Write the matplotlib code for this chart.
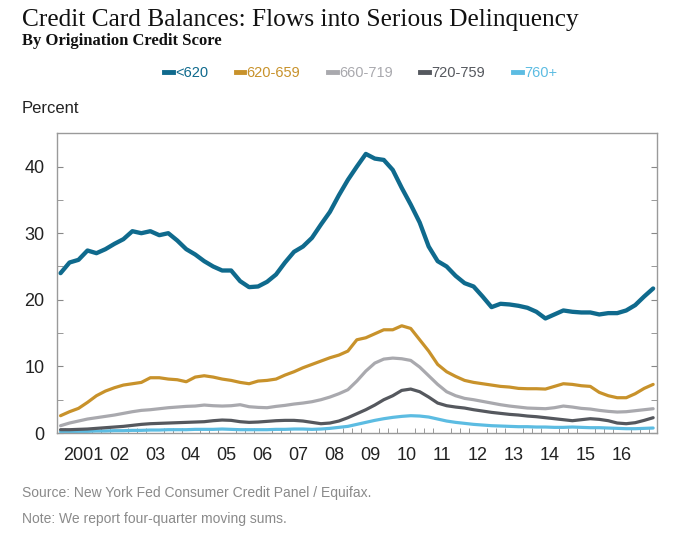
import matplotlib.pyplot as plt
import matplotlib.lines as mlines
import numpy as np
import pandas as pd

# quarterly data, 2000Q4 - 2017Q2 (four-quarter moving sums, percent)
quarters = pd.period_range('2000Q4', '2017Q2', freq='Q')

below_620 = [24.0, 25.6, 26.0, 27.4, 27.0, 27.6, 28.4, 29.1, 30.3, 30.0, 30.3, 29.7,
             30.0, 28.9, 27.6, 26.8, 25.8, 25.0, 24.4, 24.4, 22.8, 21.9, 22.0, 22.7,
             23.8, 25.6, 27.2, 28.0, 29.3, 31.3, 33.2, 35.7, 38.0, 40.0, 41.9, 41.2,
             41.0, 39.5, 36.8, 34.3, 31.6, 28.0, 25.8, 25.0, 23.6, 22.5, 22.0, 20.5,
             18.9, 19.4, 19.3, 19.1, 18.8, 18.2, 17.2, 17.8, 18.4, 18.2, 18.1, 18.1,
             17.8, 18.0, 18.0, 18.4, 19.2, 20.5, 21.7]
s620_659 = [2.6, 3.2, 3.7, 4.6, 5.6, 6.3, 6.8, 7.2, 7.4, 7.6, 8.3, 8.3,
            8.1, 8.0, 7.7, 8.4, 8.6, 8.4, 8.1, 7.9, 7.6, 7.4, 7.8, 7.9,
            8.1, 8.7, 9.2, 9.8, 10.3, 10.8, 11.3, 11.7, 12.3, 14.0, 14.3, 14.9,
            15.5, 15.5, 16.1, 15.7, 14.0, 12.3, 10.3, 9.2, 8.5, 7.9, 7.6, 7.4,
            7.2, 7.0, 6.9, 6.7, 6.65, 6.65, 6.6, 7.0, 7.4, 7.3, 7.1, 7.0,
            6.1, 5.6, 5.3, 5.3, 5.9, 6.7, 7.3]
s660_719 = [1.1, 1.5, 1.8, 2.1, 2.3, 2.5, 2.7, 2.95, 3.2, 3.4, 3.5, 3.65,
            3.8, 3.9, 4.0, 4.05, 4.2, 4.1, 4.05, 4.1, 4.25, 3.95, 3.85, 3.8,
            4.0, 4.15, 4.35, 4.5, 4.7, 5.0, 5.4, 5.9, 6.5, 7.8, 9.3, 10.5,
            11.1, 11.25, 11.15, 10.9, 9.9, 8.6, 7.3, 6.2, 5.6, 5.2, 5.0, 4.75,
            4.5, 4.25, 4.05, 3.9, 3.75, 3.7, 3.65, 3.8, 4.05, 3.9, 3.7, 3.6,
            3.4, 3.25, 3.15, 3.2, 3.35, 3.5, 3.65]
s720_759 = [0.5, 0.5, 0.55, 0.6, 0.7, 0.8, 0.9, 1.0, 1.15, 1.3, 1.4, 1.45,
            1.5, 1.55, 1.6, 1.65, 1.7, 1.85, 1.95, 1.9, 1.7, 1.6, 1.65, 1.75,
            1.85, 1.9, 1.9, 1.8, 1.6, 1.4, 1.5, 1.8, 2.3, 2.9, 3.5, 4.2,
            5.0, 5.6, 6.4, 6.6, 6.2, 5.4, 4.5, 4.1, 3.9, 3.75, 3.5, 3.3,
            3.1, 2.95, 2.8, 2.7, 2.55, 2.45, 2.3, 2.15, 2.0, 1.85, 2.0, 2.15,
            2.05, 1.85, 1.5, 1.4, 1.55, 1.9, 2.3]
s760_plus = [0.2, 0.2, 0.25, 0.25, 0.3, 0.3, 0.35, 0.35, 0.4, 0.4, 0.45, 0.45,
             0.5, 0.5, 0.5, 0.55, 0.55, 0.55, 0.6, 0.55, 0.5, 0.5, 0.5, 0.5,
             0.55, 0.55, 0.6, 0.6, 0.55, 0.6, 0.7, 0.85, 1.0, 1.3, 1.6, 1.9,
             2.15, 2.35, 2.5, 2.6, 2.55, 2.4, 2.1, 1.8, 1.6, 1.45, 1.3, 1.2,
             1.1, 1.05, 1.0, 0.95, 0.95, 0.9, 0.9, 0.85, 0.85, 0.9, 0.85, 0.8,
             0.8, 0.75, 0.7, 0.65, 0.65, 0.7, 0.75]

labels = ['<620', '620-659', '660-719', '720-759', '760+']
colors = ['#0f6a8d', '#c8922b', '#a9a9ae', '#55585e', '#5cbce2']
widths = [3.1, 2.3, 2.3, 2.3, 2.3]
year_labels = ['2001', '02', '03', '04', '05', '06', '07', '08', '09', '10',
               '11', '12', '13', '14', '15', '16']

x = np.array([q.year + (q.quarter - 0.5) / 4 for q in quarters])
series = [below_620, s620_659, s660_719, s720_759, s760_plus]

fig = plt.figure(figsize=(6.8, 5.44), dpi=100)
ax = fig.add_axes([0.0838, 0.204, 0.882, 0.551])

# draw lowest series first so <620 sits on top
for vals, c, w in list(zip(series, colors, widths))[::-1]:
    ax.plot(x, vals, color=c, linewidth=w, solid_capstyle='round')

ax.set_xlim(2000.776, 2017.475)
ax.set_ylim(0, 45)

ax.set_xticks([2001.5 + k for k in range(len(year_labels))])
ax.set_xticklabels(year_labels, family='Liberation Sans', fontsize=13, color='#222222')
ax.set_xticks(np.arange(2001.0, 2017.5, 0.25), minor=True)
ax.tick_params(axis='x', which='major', length=0, pad=10)
ax.tick_params(axis='x', which='minor', direction='in', length=3.5, color='#888888')

ax.set_yticks([0, 10, 20, 30, 40])
ax.set_yticklabels(['0', '10', '20', '30', '40'], family='Liberation Sans', fontsize=13,
                   color='#222222')
ax.set_yticks([5, 15, 25, 35], minor=True)
ax.tick_params(axis='y', which='both', direction='in', length=4, color='#888888',
               left=True, right=True, pad=9)

for sp in ax.spines.values():
    sp.set_color('#9a9a9a')
    sp.set_linewidth(1.0)

fig.text(0.032, 0.952, 'Credit Card Balances: Flows into Serious Delinquency',
         family='Liberation Serif', fontsize=18.3, color='#111111')
fig.text(0.032, 0.918, 'By Origination Credit Score',
         family='Liberation Serif', fontsize=12, weight='bold', color='#111111')
fig.text(0.032, 0.792, 'Percent', family='Liberation Sans', fontsize=12, color='#222222')

handles = [mlines.Line2D([], [], color=c, linewidth=3.5) for c in colors]
fig.legend(handles, labels, loc='center', bbox_to_anchor=(0.53, 0.866), ncol=5,
           frameon=False, handlelength=0.6, handletextpad=0.15, columnspacing=1.9,
           labelcolor=colors, prop={'family': 'Liberation Sans', 'size': 10.5})

fig.text(0.032, 0.087, 'Source: New York Fed Consumer Credit Panel / Equifax.',
         family='Liberation Sans', fontsize=10, color='#8a8a8a')
fig.text(0.032, 0.039, 'Note: We report four-quarter moving sums.',
         family='Liberation Sans', fontsize=10, color='#8a8a8a')

fig.savefig('out.png', dpi=100, facecolor='white')
